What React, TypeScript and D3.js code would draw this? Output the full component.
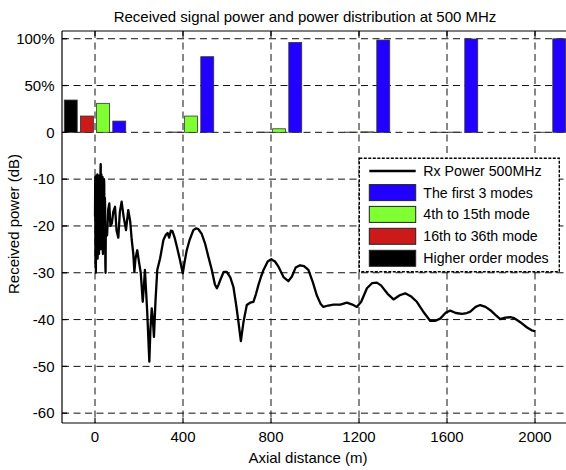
import React from "react";
import * as d3 from "d3";

const title = "Received signal power and power distribution at 500 MHz";
const xLabel = "Axial distance (m)";
const yLabel = "Received power (dB)";

const xTicks = [0, 400, 800, 1200, 1600, 2000];
const yTickValues = [-60, -50, -40, -30, -20, -10, 0, 10, 20];
const yTickLabels = ["-60", "-50", "-40", "-30", "-20", "-10", "0", "50%", "100%"];

const groupPositions = [0, 400, 800, 1200, 1600, 2000];
const modeCategories = ["Higher order modes", "16th to 36th mode", "4th to 15th mode", "The first 3 modes"];
const modeColors = ["#000000", "#cc1a1a", "#80ff33", "#2200ff"];
const higherOrder = [34.5, 0, 0, 0, 0, 0];
const mode16to36 = [17.4, 0.3, 0.2, 0.2, 0.1, 0];
const mode4to15 = [31, 17.4, 3.8, 0.5, 0.2, 0.1];
const first3 = [12, 80.8, 96, 98.6, 99.7, 99.9];
const modeSeries = [higherOrder, mode16to36, mode4to15, first3];

const legendLabels = ["Rx Power 500MHz", "The first 3 modes", "4th to 15th mode", "16th to 36th mode", "Higher order modes"];
const legendColors = ["", "#2200ff", "#80ff33", "#cc1a1a", "#000000"];

const rxDistance = [
  0, 1, 2, 3, 4, 5, 6, 7, 8, 9, 10, 11, 12, 13, 14, 15, 16, 17, 18, 19, 20, 21, 22, 23, 24, 25, 26, 27, 28, 29, 30,
  31, 32, 33, 34, 35, 36, 37, 38, 39, 40, 41, 42, 43, 44, 45, 46, 47, 48, 49, 50, 55, 60, 65, 70, 77, 83, 91, 98,
  106, 113, 121, 130, 141, 151, 160, 167, 174, 179, 184, 192,
  201, 208, 217, 222, 227, 237, 247, 252, 258, 263, 268, 275, 283, 296, 311, 322, 330, 337, 345, 352, 362, 372,
  385, 399, 408, 417, 430, 447, 460, 470, 485, 500, 515, 531, 545, 554, 562, 569, 585, 599, 615, 629, 642, 652,
  663, 675, 690, 705, 720, 732, 743, 755, 766, 785, 801, 818, 834, 858, 879, 895, 912, 932, 950, 970, 990, 1008,
  1025, 1038, 1060, 1084, 1115, 1145, 1170, 1190, 1210, 1236, 1260, 1281, 1300, 1330, 1357, 1385, 1410, 1435,
  1463, 1495, 1524, 1545, 1569, 1595, 1615, 1640, 1668, 1690, 1706, 1730, 1751, 1775, 1797, 1820, 1842, 1865,
  1888, 1905, 1918, 1940, 1964, 1985, 2001,
];
const rxPower = [
  -18, -9.5, -28, -10, -30, -9.8, -24, -9.2, -26, -10, -22, -9, -27, -9.5, -25, -10.5, -23, -9.3, -26, -9.6, -21,
  -9.4, -24, -9.2, -25, -8, -6.8, -22, -24, -9, -9.8, -25, -22, -10, -9.5, -24, -26, -11, -12, -23, -20, -10, -11,
  -25, -24, -14, -16, -28, -30, -22, -20, -22, -16.5, -15.2, -20, -19.4,
  -17, -15.9, -21, -22.5, -17, -14.8, -18, -20.9, -16.6, -19, -23, -25.9, -29.8, -27, -25.2, -28, -30, -36.2, -33,
  -29.4, -38, -49, -42, -37.6, -40, -43.7, -36, -29.4, -26.9, -23, -21.9, -21.5, -22.5, -21, -21.1, -22.5, -24.4,
  -27, -30.1, -27.5, -25.2, -23, -20.9, -20.5, -20.7, -21.7, -23.7, -26.5, -29.4, -32.5, -33.3, -32.5, -31.6,
  -29.8, -29.8, -31, -33, -37, -40.5, -44.6, -40.5, -36.9, -36.4, -36.2, -34.5, -32.6, -30.8, -29.4, -27.6, -27.1,
  -27.6, -28.7, -31, -31.8, -30.8, -28.9, -28.4, -28.6, -29.4, -32, -34.8, -36.6, -37.3, -37, -36.8, -36.8, -36.4,
  -36.8, -37.3, -36.2, -33.3, -32.2, -32.1, -32.7, -34.5, -35.7, -34.8, -34.4, -35, -36.2, -38.5, -40.3, -40.3,
  -39.8, -38.5, -38.1, -38.6, -38.8, -38.6, -38.3, -37.3, -36.9, -37.3, -38, -39, -39.9, -39.6, -39.5, -39.7,
  -40.1, -40.8, -41.7, -42.3, -42.5,
];

const W = 566;
const H = 470;
const left = 62;
const top = 31;
const bottom = 423;
const right = 568;
const font = "'Liberation Sans', Arial, Helvetica, sans-serif";

export default function App() {
  const x = d3.scaleLinear().domain([-150, 2150]).range([left, right]);
  const y = d3.scaleLinear().domain([-62.1, 21.65]).range([bottom, top]);
  const band = d3.scaleBand<string>().domain(modeCategories).range([-147, 147]).paddingInner(0.2).paddingOuter(0.1);
  const pct = (v: number) => v / 5;

  const pts: [number, number][] = rxDistance.map((d, i) => [d, rxPower[i]]);
  const line = d3
    .line<[number, number]>()
    .x((p) => x(p[0]))
    .y((p) => y(p[1]))
    .curve(d3.curveLinear);

  const dash = "7,4.5";
  const legendX = 359.3;
  const legendY = 158.3;
  const rowY = [171, 192.6, 214.4, 236.3, 258.3];

  return (
    <svg width={W} height={H} style={{ position: "absolute", left: 0, top: 0, background: "#fff" }} fontFamily={font}>
      <defs>
        <clipPath id="plotclip">
          <rect x={left} y={top} width={right - left} height={bottom - top} />
        </clipPath>
      </defs>
      <rect x={0} y={0} width={W} height={H} fill="#fff" />
      {/* grid */}
      <g stroke="#111" strokeWidth={1} strokeDasharray={dash} fill="none">
        {yTickValues.map((v) => (
          <line key={"gy" + v} x1={left} x2={right} y1={y(v)} y2={y(v)} />
        ))}
        {xTicks.map((v) => (
          <line key={"gx" + v} x1={x(v)} x2={x(v)} y1={top} y2={bottom} />
        ))}
      </g>
      {/* bars */}
      <g clipPath="url(#plotclip)">
        {modeSeries.map((series, ci) =>
          series.map((v, gi) => {
            const cx = groupPositions[gi] + (band(modeCategories[ci]) as number);
            const x0 = x(cx);
            const x1 = x(cx + band.bandwidth());
            const yv = y(pct(v));
            const y0 = y(0);
            return (
              <rect
                key={`b${ci}-${gi}`}
                x={x0}
                y={Math.min(yv, y0)}
                width={x1 - x0}
                height={Math.abs(y0 - yv)}
                fill={modeColors[ci]}
                stroke="#333"
                strokeWidth={0.8}
              />
            );
          })
        )}
      </g>
      {/* line */}
      <path
        d={line(pts) || ""}
        fill="none"
        stroke="#000"
        strokeWidth={2.3}
        strokeLinejoin="round"
        clipPath="url(#plotclip)"
      />
      {/* frame */}
      <g stroke="#000" strokeWidth={1.2} fill="none">
        <line x1={left} x2={left} y1={top} y2={bottom} />
        <line x1={left} x2={W} y1={top} y2={top} />
        <line x1={left} x2={W} y1={bottom} y2={bottom} />
        {yTickValues.map((v) => (
          <line key={"ty" + v} x1={left} x2={left + 5} y1={y(v)} y2={y(v)} />
        ))}
        {xTicks.map((v) => (
          <g key={"tx" + v}>
            <line x1={x(v)} x2={x(v)} y1={bottom} y2={bottom - 5} />
            <line x1={x(v)} x2={x(v)} y1={top} y2={top + 5} />
          </g>
        ))}
      </g>
      {/* tick labels */}
      <g fontSize={15} fill="#000">
        {yTickValues.map((v, i) => (
          <text key={"ly" + v} x={54.5} y={y(v) + 5.3} textAnchor="end">
            {yTickLabels[i]}
          </text>
        ))}
        {xTicks.map((v) => (
          <text key={"lx" + v} x={x(v)} y={442} textAnchor="middle">
            {v}
          </text>
        ))}
      </g>
      <text x={305} y={21.5} fontSize={15} textAnchor="middle">
        {title}
      </text>
      <text x={308} y={463} fontSize={15} textAnchor="middle">
        {xLabel}
      </text>
      <text transform={`translate(18.5,224) rotate(-90)`} fontSize={15} textAnchor="middle">
        {yLabel}
      </text>
      {/* legend */}
      <g>
        <rect
          x={legendX}
          y={legendY}
          width={200}
          height={113.5}
          fill="#fff"
          stroke="#000"
          strokeWidth={1.4}
          strokeDasharray="3,1.5"
        />
        {legendLabels.map((lab, i) => (
          <g key={"lg" + i}>
            {i === 0 ? (
              <line x1={369.3} x2={415.7} y1={rowY[i]} y2={rowY[i]} stroke="#000" strokeWidth={2.3} />
            ) : (
              <rect x={369.3} y={rowY[i] - 8} width={46.4} height={16} fill={legendColors[i]} stroke="#222" strokeWidth={1} />
            )}
            <text x={423.3} y={rowY[i] + 5} fontSize={14.2}>
              {lab}
            </text>
          </g>
        ))}
      </g>
    </svg>
  );
}
